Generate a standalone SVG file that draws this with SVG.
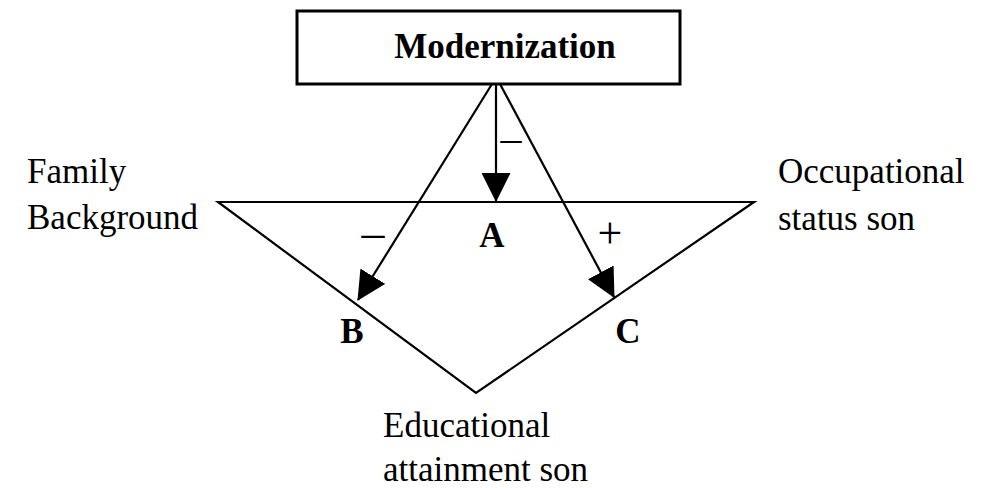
<svg xmlns="http://www.w3.org/2000/svg" width="990" height="488" viewBox="0 0 990 488">
<style>
.t{font-family:"Liberation Serif","Times New Roman",serif;font-size:35px;fill:#000}
.b{font-weight:bold}
.ln{stroke:#000;stroke-width:2.2;fill:none}
</style>
<defs>
<marker id="ah" markerUnits="userSpaceOnUse" markerWidth="29" markerHeight="29" refX="28" refY="14.5" orient="auto" viewBox="0 0 29 29">
<path d="M0,0 L29,14.5 L0,29 z" fill="#000"/>
</marker>
</defs>
<rect width="990" height="488" fill="#fff"/>
<g id="modernization">
<rect x="297" y="11" width="383" height="73" fill="#fff" stroke="#000" stroke-width="3"/>
<text class="t b" x="505" y="58" text-anchor="middle">Modernization</text>
</g>
<g id="triangle">
<polygon points="218,202 754,202 476,393" class="ln"/>
</g>
<g id="family-background">
<text class="t" x="27" y="183">Family</text>
<text class="t" x="27" y="229">Background</text>
</g>
<g id="occupational-status">
<text class="t" x="778" y="183">Occupational</text>
<text class="t" x="778" y="230">status son</text>
</g>
<g id="educational-attainment">
<text class="t" x="383" y="437">Educational</text>
<text class="t" x="383" y="481">attainment son</text>
</g>
<g id="labels">
<text class="t b" x="492" y="247" text-anchor="middle">A</text>
<text class="t b" x="352" y="343" text-anchor="middle">B</text>
<text class="t b" x="628" y="343" text-anchor="middle">C</text>
</g>
<g id="connectors">
<line x1="496" y1="84" x2="496" y2="201" class="ln" marker-end="url(#ah)"/>
<line x1="492" y1="84" x2="358" y2="300" class="ln" marker-end="url(#ah)"/>
<line x1="500" y1="84" x2="614" y2="297" class="ln" marker-end="url(#ah)"/>
<text class="t" x="511" y="152" text-anchor="middle" style="font-size:42px">–</text>
<text class="t" x="373" y="248" text-anchor="middle" style="font-size:46px">–</text>
<text class="t" x="610" y="248" text-anchor="middle" style="font-size:44px">+</text>
</g>
</svg>
